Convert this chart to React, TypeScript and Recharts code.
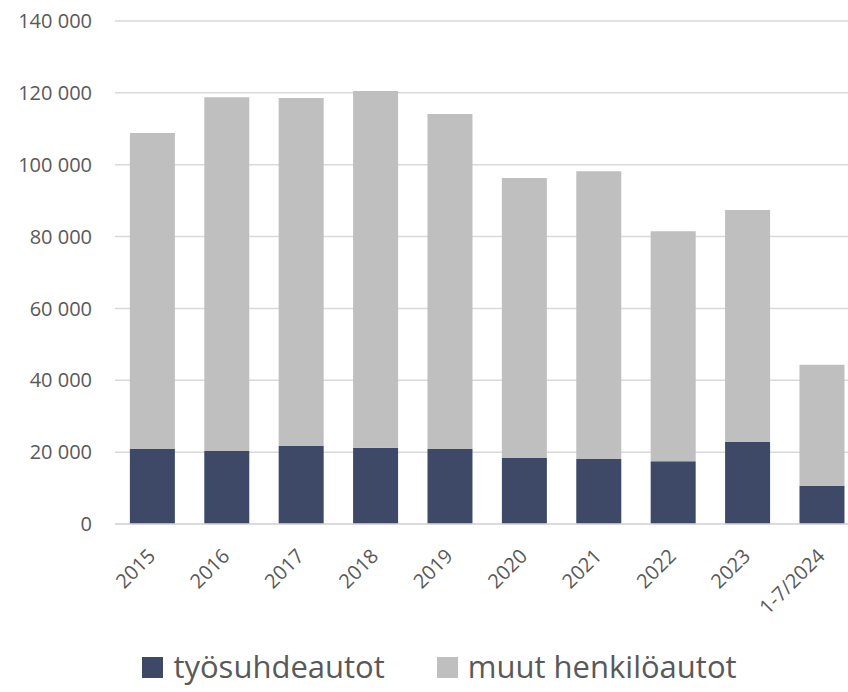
import { BarChart, Bar, XAxis, YAxis, CartesianGrid, Legend } from "recharts";

const years = ["2015", "2016", "2017", "2018", "2019", "2020", "2021", "2022", "2023", "1-7/2024"];
const tyosuhdeautot = [20900, 20300, 21700, 21200, 20900, 18400, 18100, 17500, 22800, 10600];
const muutHenkiloautot = [87900, 98500, 96900, 99300, 93200, 77900, 80100, 64000, 64600, 33700];
const yTicks = [0, 20000, 40000, 60000, 80000, 100000, 120000, 140000];

const DARK = "#3D4966";
const LIGHT = "#BFBFBF";
const TEXT = "#595959";
const FONT = "'Open Sans', sans-serif";

const data = years.map((year, i) => ({
	year,
	tyo: tyosuhdeautot[i],
	muut: muutHenkiloautot[i],
}));

const formatThousands = (v: number) =>
	String(v).replace(/\B(?=(\d{3})+(?!\d))/g, " ");

const XTick = (props: any) => {
	const { x, y, payload } = props;
	return (
		<g transform={`translate(${x - 1},${y + 20})`}>
			<text
				transform="rotate(-45)"
				textAnchor="end"
				dominantBaseline="central"
				fill={TEXT}
				fontSize={20}
				fontFamily={FONT}
			>
				{payload.value}
			</text>
		</g>
	);
};

const LegendContent = () => (
	<div
		style={{
			display: "flex",
			justifyContent: "center",
			alignItems: "flex-end",
			gap: 52,
			fontFamily: FONT,
			fontSize: 31,
			lineHeight: "40px",
			color: TEXT,
			paddingLeft: 20,
			paddingTop: 4,
		}}
	>
		{[
			{ label: "työsuhdeautot", color: DARK },
			{ label: "muut henkilöautot", color: LIGHT },
		].map((item) => (
			<div key={item.label} style={{ display: "flex", alignItems: "baseline", gap: 10 }}>
				<span style={{ width: 21, height: 21, background: item.color, display: "inline-block" }} />
				<span>{item.label}</span>
			</div>
		))}
	</div>
);

export default function App() {
	return (
		<div style={{ position: "absolute", left: 0, top: 0, width: 848, height: 692, background: "#fff", overflow: "hidden" }}>
			<BarChart
				width={859}
				height={692}
				data={data}
				barCategoryGap="20%"
				margin={{ top: 21, right: 0, left: 0, bottom: 0 }}
			>
				<CartesianGrid vertical={false} stroke="#D9D9D9" strokeWidth={1.5} />
				<XAxis
					dataKey="year"
					axisLine={{ stroke: "#D9D9D9", strokeWidth: 1.5 }}
					tickLine={false}
					interval={0}
					height={118}
					tick={<XTick />}
				/>
				<YAxis
					domain={[0, 140000]}
					ticks={yTicks}
					axisLine={false}
					tickLine={false}
					width={115}
					tickMargin={17}
					tickFormatter={formatThousands}
					tick={{ fill: TEXT, fontSize: 20, fontFamily: FONT }}
				/>
				<Legend verticalAlign="bottom" height={50} content={<LegendContent />} />
				<Bar dataKey="tyo" name="työsuhdeautot" stackId="a" fill={DARK} isAnimationActive={false} />
				<Bar dataKey="muut" name="muut henkilöautot" stackId="a" fill={LIGHT} isAnimationActive={false} />
			</BarChart>
		</div>
	);
}
